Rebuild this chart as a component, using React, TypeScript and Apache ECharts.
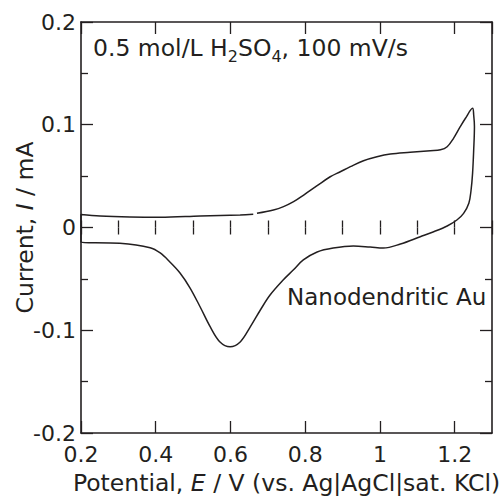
import React, { useEffect, useRef } from "react";
import * as echarts from "echarts";

// Cyclic voltammogram, loop order: anodic (from the gap) -> reversal -> cathodic -> anodic back to gap
const potential = [
  0.671, 0.715, 0.742, 0.769, 0.796, 0.831, 0.867, 0.894, 0.921, 0.956,
  0.992, 1.028, 1.081, 1.135, 1.162, 1.180, 1.197, 1.215, 1.229, 1.248,
  1.251, 1.253, 1.251, 1.248, 1.244, 1.238, 1.224, 1.206, 1.180, 1.144, 1.108,
  1.055, 1.009, 0.974, 0.929, 0.875, 0.832, 0.795, 0.768, 0.741,
  0.706, 0.680, 0.653, 0.626, 0.599, 0.572, 0.546, 0.519, 0.492, 0.465,
  0.438, 0.412, 0.385, 0.304, 0.200,
  0.200, 0.251, 0.331, 0.412, 0.519, 0.626, 0.661,
];
const current = [
  0.0138, 0.0170, 0.0203, 0.0251, 0.0316, 0.0404, 0.0494, 0.0543, 0.0592, 0.0650,
  0.0689, 0.0715, 0.0732, 0.0748, 0.0756, 0.0786, 0.0868, 0.0981, 0.1063, 0.1160,
  0.1095, 0.0981, 0.0754, 0.0527, 0.0365, 0.0236, 0.0138, 0.0073, 0.0015, -0.0041, -0.0090,
  -0.0161, -0.0200, -0.0190, -0.0180, -0.0200, -0.0238, -0.0316, -0.0414, -0.0511,
  -0.0657, -0.0803, -0.0968, -0.1114, -0.1160, -0.1114, -0.0968, -0.0774, -0.0589, -0.0443,
  -0.0336, -0.0248, -0.0197, -0.0154, -0.0144,
  0.0127, 0.0112, 0.0102, 0.0099, 0.0112, 0.0122, 0.0128,
];

const xMin = 0.2;
const xMax = 1.3;
const yMin = -0.2;
const yMax = 0.2;

const conditionText = "{a|0.5 mol/L H}{s|2}{a|SO}{s|4}{a|, 100 mV/s}";
const sampleText = "Nanodendritic Au";
const xName = "{a|Potential, }{i|E}{a| / V (vs. Ag|AgCl|sat. KCl)}";
const yName = "{a|Current, }{i|I}{a| / mA}";

const FONT = "DejaVu Sans";
const INK = "#231f20";

export default function App() {
  const ref = useRef<HTMLDivElement>(null);
  useEffect(() => {
    if (!ref.current) return;
    const chart = echarts.init(ref.current, undefined, { renderer: "svg" });
    const lineStyle = { color: INK, width: 1.6 };
    const xCommon = {
      type: "value" as const,
      min: xMin,
      max: xMax,
      splitLine: { show: false },
    };
    const yCommon = {
      type: "value" as const,
      min: yMin,
      max: yMax,
      interval: 0.1,
      splitLine: { show: false },
      minorTick: { show: true, splitNumber: 2, length: 7, lineStyle: { color: INK, width: 1.3 } },
      axisTick: { show: true, inside: true, length: 12, lineStyle: { color: INK, width: 1.3 } },
      axisLine: { show: true, onZero: false, lineStyle },
    };
    const nameRich = {
      a: { fontFamily: FONT, fontSize: 23.5, color: INK },
      i: { fontFamily: FONT, fontSize: 23.5, color: INK, fontStyle: "italic" as const },
    };
    chart.setOption({
      animation: false,
      backgroundColor: "#ffffff",
      grid: {
        left: 81,
        right: 10,
        top: 22,
        bottom: 66,
        containLabel: false,
        outerBoundsMode: "none",
      },
      xAxis: [
        {
          ...xCommon,
          position: "bottom",
          interval: 0.2,
          axisLine: { show: true, onZero: false, lineStyle },
          axisTick: { show: true, inside: true, length: 12, lineStyle: { color: INK, width: 1.3 } },
          axisLabel: {
            show: true,
            margin: 10,
            showMaxLabel: false,
            fontFamily: FONT,
            fontSize: 22,
            color: INK,
          },
          name: xName,
          nameLocation: "middle",
          nameGap: 38,
          nameMoveOverlap: false,
          nameTextStyle: { rich: nameRich },
        },
        {
          ...xCommon,
          position: "bottom",
          interval: 0.1,
          axisLine: { show: false },
          axisTick: { show: true, inside: true, length: 7, lineStyle: { color: INK, width: 1.3 } },
          axisLabel: { show: false },
        },
        {
          ...xCommon,
          position: "top",
          interval: 0.2,
          axisLine: { show: true, onZero: false, lineStyle },
          axisTick: { show: true, inside: true, length: 12, lineStyle: { color: INK, width: 1.3 } },
          axisLabel: { show: false },
        },
        {
          ...xCommon,
          position: "top",
          interval: 0.1,
          axisLine: { show: false },
          axisTick: { show: true, inside: true, length: 7, lineStyle: { color: INK, width: 1.3 } },
          axisLabel: { show: false },
        },
      ],
      yAxis: [
        {
          ...yCommon,
          position: "left",
          axisLabel: { show: true, margin: 5, fontFamily: FONT, fontSize: 22, color: INK },
          name: yName,
          nameLocation: "middle",
          nameGap: 44,
          nameMoveOverlap: false,
          nameTextStyle: { rich: nameRich },
        },
        {
          ...yCommon,
          position: "right",
          axisLabel: { show: false },
        },
      ],
      series: [
        {
          type: "line",
          xAxisIndex: 0,
          yAxisIndex: 0,
          data: potential.map((e, i) => [e, current[i]]),
          showSymbol: false,
          smooth: 0.35,
          lineStyle: { color: INK, width: 1.5 },
          z: 3,
        },
      ],
      graphic: [
        {
          type: "text",
          x: 93,
          y: 32,
          z: 10,
          style: {
            text: conditionText,
            verticalAlign: "top",
            align: "left",
            rich: {
              a: { fontFamily: FONT, fontSize: 23.5, lineHeight: 32, fill: INK, color: INK },
              s: {
                fontFamily: FONT,
                fontSize: 16,
                lineHeight: 16,
                verticalAlign: "bottom",
                fill: INK,
                color: INK,
              },
            },
          },
        },
        {
          type: "text",
          x: 287,
          y: 297,
          z: 10,
          style: {
            text: sampleText,
            fontFamily: FONT,
            fontSize: 23,
            fill: INK,
            verticalAlign: "middle",
            align: "left",
          },
        },
      ],
    });
    return () => chart.dispose();
  }, []);
  return (
    <div
      ref={ref}
      style={{ position: "fixed", left: 0, top: 0, width: 502, height: 499, background: "#fff" }}
    />
  );
}
